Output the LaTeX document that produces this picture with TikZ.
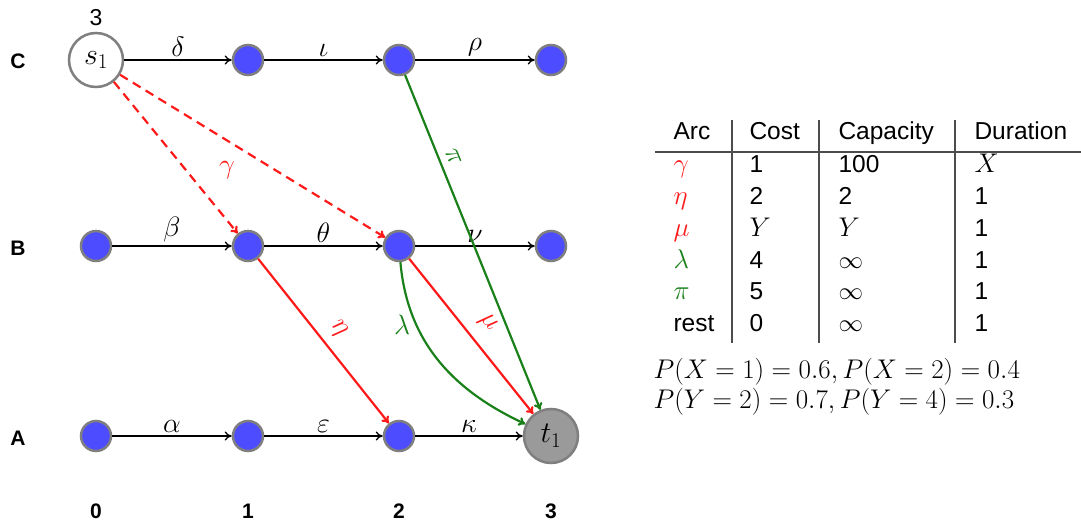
\RequirePackage{fix-cm}
\documentclass[tikz,border=0pt]{standalone}
\usepackage{fontspec}
\setmainfont{Liberation Sans}
\usetikzlibrary{arrows.meta}
\definecolor{nodeblue}{HTML}{4D4DFF}
\definecolor{bordergray}{HTML}{7F7F7F}
\definecolor{tgray}{HTML}{9A9A9A}
\definecolor{dgreen}{HTML}{1A801A}
\definecolor{myred}{HTML}{FF1A1A}
\begin{document}
\begin{tikzpicture}[x=1pt,y=-1pt,
  vtx/.style={circle, fill=nodeblue, draw=bordergray, line width=2.5pt, minimum size=30pt, inner sep=0pt},
  bigvtx/.style={circle, draw=bordergray, line width=2.5pt, minimum size=54pt, inner sep=0pt, font=\fontsize{30}{34}\selectfont},
  harc/.style={-{To[length=7pt,width=9pt]}, line width=1.3pt, black},
  redarc/.style={-{To[length=7pt,width=9pt]}, line width=2.2pt, myred},
  greenarc/.style={-{To[length=7pt,width=9pt]}, line width=2.2pt, dgreen},
  lbl/.style={font=\fontsize{28}{32}\selectfont, inner sep=1pt},
  axis/.style={font=\fontsize{21}{25}\selectfont\bfseries},
  tab/.style={font=\fontsize{24.5}{29}\selectfont, anchor=west, text height=18pt, text depth=5pt},
  tmath/.style={font=\fontsize{27}{31}\selectfont, anchor=west, text height=18pt, text depth=5pt},
  tline/.style={line width=1.3pt, black!70}
]
\useasboundingbox (0,0) rectangle (1081,524);

% nodes
\node[bigvtx, fill=white] (c0) at (96,60) {$s_1$};
\node[vtx] (c1) at (248,60) {};
\node[vtx] (c2) at (399,60) {};
\node[vtx] (c3) at (551,60) {};
\node[vtx] (b0) at (96,246) {};
\node[vtx] (b1) at (248,246) {};
\node[vtx] (b2) at (399,246) {};
\node[vtx] (b3) at (551,246) {};
\node[vtx] (a0) at (96,436) {};
\node[vtx] (a1) at (248,436) {};
\node[vtx] (a2) at (399,436) {};
\node[bigvtx, fill=tgray] (a3) at (551,436) {$t_1$};

\node[font=\fontsize{23}{26}\selectfont] (three) at (96,18) {3};

% row and column labels
\node[axis] (rc) at (18,61) {C};
\node[axis] (rb) at (18,248) {B};
\node[axis] (ra) at (18,438) {A};
\node[axis] (k0) at (96,511) {0};
\node[axis] (k1) at (248,511) {1};
\node[axis] (k2) at (399,511) {2};
\node[axis] (k3) at (551,511) {3};

% horizontal arcs
\draw[harc] (c0) -- node[lbl, above=2pt] {$\delta$} (c1);
\draw[harc] (c1) -- node[lbl, above=2pt] {$\iota$} (c2);
\draw[harc] (c2) -- node[lbl, above=2pt] {$\rho$} (c3);
\draw[harc] (b0) -- node[lbl, above=2pt] {$\beta$} (b1);
\draw[harc] (b1) -- node[lbl, above=2pt] {$\theta$} (b2);
\draw[harc] (b2) -- node[lbl, above=2pt] {$\nu$} (b3);
\draw[harc] (a0) -- node[lbl, above=2pt] {$\alpha$} (a1);
\draw[harc] (a1) -- node[lbl, above=2pt] {$\varepsilon$} (a2);
\draw[harc] (a2) -- node[lbl, above=2pt] {$\kappa$} (a3);

% red dashed gamma arcs
\draw[redarc, dash pattern=on 9pt off 6pt] (c0) -- (b1);
\draw[redarc, dash pattern=on 9pt off 6pt] (c0) -- (b2);
\node[lbl, text=myred] (gam) at (227,170) {$\gamma$};

% red solid arcs
\draw[redarc] (b1) -- node[lbl, sloped, above=8pt, pos=0.5] {$\eta$} (a2);
\draw[redarc] (b2) -- node[lbl, sloped, above=10pt, pos=0.5] {$\mu$} (a3);

% green arcs
\draw[greenarc] (c2) -- node[lbl, sloped, above=6pt, pos=0.26] {$\pi$} (a3);
\draw[greenarc] (b2) to[out=-85, in=155] (a3);
\node[lbl, text=dgreen] (lam) at (402,325) {$\lambda$};

% table
\node[tab] (h1) at (670,133) {Arc};
\node[tab] (h2) at (746,133) {Cost};
\node[tab] (h3) at (835,133) {Capacity};
\node[tab] (h4) at (971,133) {Duration};
\draw[tline] (655,152) -- (1081,152);
\draw[tline] (732,120) -- (732,343);
\draw[tline] (819,120) -- (819,343);
\draw[tline] (955,120) -- (955,343);

\node[tmath, text=myred] (r1a) at (670,166) {$\gamma$};
\node[tab] (r1b) at (746,166) {1};
\node[tab] (r1c) at (835,166) {100};
\node[tmath] (r1d) at (971,166) {$X$};

\node[tmath, text=myred] (r2a) at (670,198) {$\eta$};
\node[tab] (r2b) at (746,198) {2};
\node[tab] (r2c) at (835,198) {2};
\node[tab] (r2d) at (971,198) {1};

\node[tmath, text=myred] (r3a) at (670,230) {$\mu$};
\node[tmath] (r3b) at (746,230) {$Y$};
\node[tmath] (r3c) at (835,230) {$Y$};
\node[tab] (r3d) at (971,230) {1};

\node[tmath, text=dgreen] (r4a) at (670,262) {$\lambda$};
\node[tab] (r4b) at (746,262) {4};
\node[tab] (r4c) at (835,262) {$\infty$};
\node[tab] (r4d) at (971,262) {1};

\node[tmath, text=dgreen] (r5a) at (670,293) {$\pi$};
\node[tab] (r5b) at (746,293) {5};
\node[tab] (r5c) at (835,293) {$\infty$};
\node[tab] (r5d) at (971,293) {1};

\node[tab] (r6a) at (670,325) {rest};
\node[tab] (r6b) at (746,325) {0};
\node[tab] (r6c) at (835,325) {$\infty$};
\node[tab] (r6d) at (971,325) {1};

\node[tmath] (p1) at (650,372) {$P(X=1)=0.6, P(X=2)=0.4$};
\node[tmath] (p2) at (650,402) {$P(Y=2)=0.7, P(Y=4)=0.3$};
\end{tikzpicture}
\end{document}
